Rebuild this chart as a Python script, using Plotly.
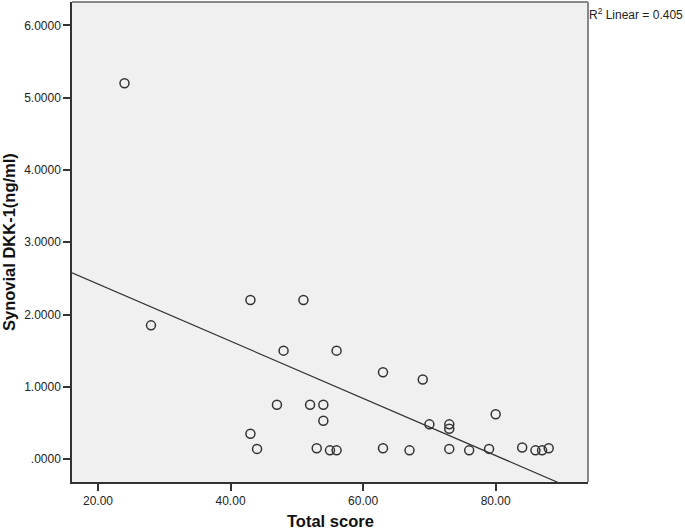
import numpy as np
import plotly.graph_objects as go

# Data
total_score = [24, 28, 43, 51, 48, 56, 47, 52, 54, 54, 43, 44, 53, 55, 56,
               63, 69, 80, 70, 73, 73, 63, 67, 73, 76, 79, 84, 86, 87, 88]
dkk1 = [5.20, 1.85, 2.20, 2.20, 1.50, 1.50, 0.75, 0.75, 0.75, 0.53, 0.35, 0.14, 0.15, 0.12, 0.12,
        1.20, 1.10, 0.62, 0.48, 0.48, 0.42, 0.15, 0.12, 0.14, 0.12, 0.14, 0.16, 0.12, 0.12, 0.15]

x_tickvals = [20, 40, 60, 80]
x_ticktext = ["20.00", "40.00", "60.00", "80.00"]
y_tickvals = [0, 1, 2, 3, 4, 5, 6]
y_ticktext = [".0000", "1.0000", "2.0000", "3.0000", "4.0000", "5.0000", "6.0000"]

x_range = [16.08, 93.93]
y_range = [-0.318, 6.325]

slope, intercept = np.polyfit(total_score, dkk1, 1)
fit_x = np.array(x_range)
fit_y = slope * fit_x + intercept

fig = go.Figure()
fig.add_trace(go.Scatter(
    x=fit_x, y=fit_y, mode="lines",
    line=dict(color="#333333", width=1.2), hoverinfo="skip", showlegend=False))
fig.add_trace(go.Scatter(
    x=total_score, y=dkk1, mode="markers",
    marker=dict(symbol="circle-open", size=9, color="#333333", line=dict(width=1.5, color="#333333")),
    showlegend=False, cliponaxis=True))

font_family = "Liberation Sans, Arial, sans-serif"
fig.update_layout(
    width=685, height=530,
    margin=dict(l=72, r=97, t=2, b=48, pad=0, autoexpand=False),
    paper_bgcolor="white", plot_bgcolor="#F0F0F0",
    font=dict(family=font_family, size=12, color="#222222"),
    xaxis=dict(range=x_range, tickvals=x_tickvals, ticktext=x_ticktext, automargin=False,
               showgrid=False, zeroline=False, showline=True, linecolor="#333333", linewidth=1.5,
               ticks="outside", ticklen=7, tickwidth=1.5, tickcolor="#333333",
               tickfont=dict(size=12, color="#222222")),
    yaxis=dict(range=y_range, tickvals=y_tickvals, ticktext=y_ticktext, automargin=False,
               showgrid=False, zeroline=False, showline=True, linecolor="#333333", linewidth=1.5,
               ticks="outside", ticklen=7, tickwidth=1.5, tickcolor="#333333",
               tickfont=dict(size=12, color="#222222")),
    shapes=[
        dict(type="line", xref="paper", yref="paper", x0=0, x1=1, y0=1, y1=1,
             line=dict(color="#888888", width=2)),
        dict(type="line", xref="paper", yref="paper", x0=1, x1=1, y0=0, y1=1,
             line=dict(color="#888888", width=2)),
    ],
    annotations=[
        dict(text="R<sup>2</sup> Linear = 0.405", xref="paper", yref="paper",
             x=1.0, y=1.0, xanchor="left", yanchor="top", showarrow=False,
             xshift=-1, yshift=-2, font=dict(size=12, color="#222222")),
        dict(text="<b>Total score</b>", xref="paper", yref="paper",
             x=0.5, y=0, xanchor="center", yanchor="middle", showarrow=False,
             yshift=-39, font=dict(size=16.5, color="#111111")),
        dict(text="<b>Synovial DKK-1(ng/ml)</b>", xref="paper", yref="paper",
             x=0, y=0.5, xanchor="center", yanchor="middle", showarrow=False, textangle=-90,
             xshift=-63, yshift=0, font=dict(size=16.5, color="#111111")),
    ],
)

fig.write_html("out.html", config={"displayModeBar": False},
               post_script="document.body.style.margin='0';document.body.style.overflow='hidden';")
